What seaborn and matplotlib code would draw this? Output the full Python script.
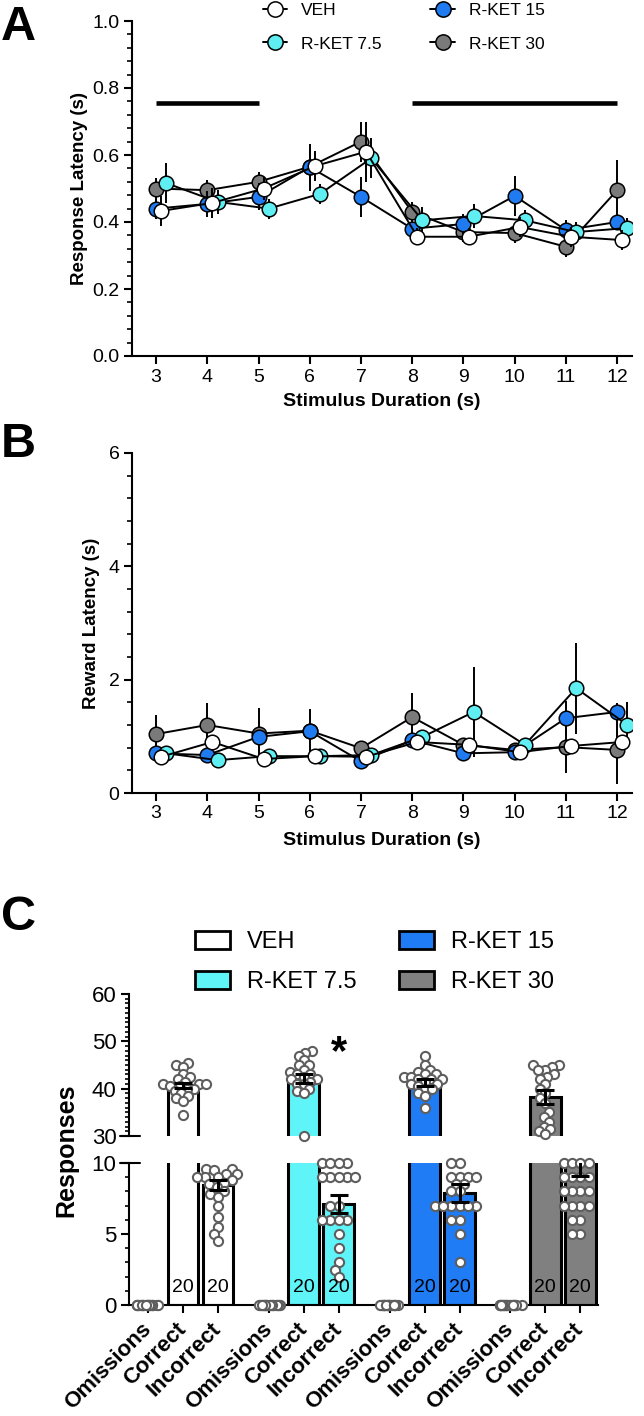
import numpy as np
import pandas as pd
import matplotlib
matplotlib.use("Agg")
import matplotlib.pyplot as plt
import seaborn as sns
from matplotlib.lines import Line2D
from matplotlib.patches import Patch
from matplotlib.ticker import MultipleLocator

# ---------------- data ----------------
groups = ["VEH", "R-KET 7.5", "R-KET 15", "R-KET 30"]
durations = [3, 4, 5, 6, 7, 8, 9, 10, 11, 12]

# Panel A: response latency (s), mean and SEM
resp_veh = [0.433, 0.457, 0.500, 0.567, 0.610, 0.356, 0.356, 0.385, 0.356, 0.346]
resp_r75 = [0.516, 0.460, 0.440, 0.484, 0.590, 0.405, 0.418, 0.405, 0.370, 0.382]
resp_r15 = [0.440, 0.454, 0.475, 0.564, 0.475, 0.380, 0.394, 0.478, 0.376, 0.400]
resp_r30 = [0.500, 0.495, 0.520, 0.565, 0.640, 0.430, 0.370, 0.367, 0.326, 0.495]
resp_sem_veh = [0.045, 0.045, 0.035, 0.045, 0.090, 0.025, 0.025, 0.030, 0.030, 0.030]
resp_sem_r75 = [0.060, 0.035, 0.030, 0.030, 0.060, 0.040, 0.035, 0.030, 0.030, 0.030]
resp_sem_r15 = [0.030, 0.040, 0.040, 0.070, 0.060, 0.030, 0.030, 0.060, 0.030, 0.025]
resp_sem_r30 = [0.030, 0.030, 0.030, 0.050, 0.060, 0.030, 0.030, 0.030, 0.030, 0.090]

# Panel B: reward latency (s), mean and SEM
rew_veh = [0.64, 0.90, 0.60, 0.65, 0.64, 0.90, 0.85, 0.72, 0.83, 0.90]
rew_r75 = [0.70, 0.58, 0.65, 0.65, 0.67, 0.99, 1.43, 0.85, 1.85, 1.20]
rew_r15 = [0.70, 0.67, 0.99, 1.09, 0.56, 0.93, 0.70, 0.72, 1.32, 1.43]
rew_r30 = [1.04, 1.20, 1.05, 1.10, 0.79, 1.34, 0.85, 0.76, 0.81, 0.76]
rew_sem_veh = [0.08, 0.12, 0.08, 0.08, 0.08, 0.10, 0.08, 0.06, 0.08, 0.08]
rew_sem_r75 = [0.08, 0.08, 0.08, 0.08, 0.08, 0.12, 0.79, 0.10, 0.80, 0.40]
rew_sem_r15 = [0.08, 0.10, 0.12, 0.39, 0.08, 0.10, 0.08, 0.08, 0.30, 0.15]
rew_sem_r30 = [0.33, 0.38, 0.45, 0.15, 0.10, 0.43, 0.10, 0.08, 0.45, 0.60]

# significance bars in A (duration spans)
sig_spans = [(3, 5), (8, 12)]
sig_level = 0.755

# Panel C: responses
outcomes = ["Omissions", "Correct", "Incorrect"]
resp_mean = {"VEH": [0, 40.7, 8.45], "R-KET 7.5": [0, 42.2, 7.1],
             "R-KET 15": [0, 41.3, 7.9], "R-KET 30": [0, 38.3, 10.0]}
resp_sem = {"VEH": [0, 0.6, 0.35], "R-KET 7.5": [0, 0.9, 0.65],
            "R-KET 15": [0, 0.8, 0.65], "R-KET 30": [0, 1.5, 0.9]}
correct_veh = [45.5, 45, 44.5, 43, 42.5, 42, 41.5, 41, 41, 41, 40.5, 40.5, 40, 40, 39.5, 39, 38.5, 38, 37.5, 34.5]
correct_r75 = [48, 47.5, 47, 46, 45, 45, 44, 43.5, 43, 43, 42.5, 42, 42, 41.5, 41, 41, 40, 39.5, 39, 30]
correct_r15 = [47, 45, 44, 43.5, 43, 43, 42.5, 42.5, 42, 42, 42, 41.5, 41, 41, 40.5, 40, 40, 39, 38.5, 36]
correct_r30 = [45, 45, 44.5, 44, 44, 43, 42.5, 42, 41, 40, 39, 38, 37, 35, 34, 33, 32, 31.5, 31, 30.5]
incorrect_veh = [9.6, 9.6, 9.5, 9.2, 9.2, 9.0, 9.0, 9.0, 8.8, 8.6, 8.5, 8.3, 8.0, 7.8, 7.6, 7.0, 6.2, 5.5, 5.0, 4.5]
incorrect_r75 = [10, 10, 10, 10, 9, 9, 9, 9, 9, 7, 7, 6, 6, 6, 6, 5, 4, 3, 2.5, 2]
incorrect_r15 = [10, 10, 9, 9, 9, 9, 8.5, 8.5, 8, 8, 7, 7, 7, 7, 7, 7, 6, 6, 5, 3]
incorrect_r30 = [10, 10, 10, 10, 9, 9, 9, 9, 8, 8, 8, 8, 7, 7, 7, 7, 6, 6, 5, 5]
omissions = [0] * 20
n_subjects = 20

# ---------------- style ----------------
line_fill = {"VEH": "#FFFFFF", "R-KET 7.5": "#5FEFF2", "R-KET 15": "#1F7BEF", "R-KET 30": "#7A7A7A"}
bar_fill = {"VEH": "#FFFFFF", "R-KET 7.5": "#5FF5F8", "R-KET 15": "#1F7CF5", "R-KET 30": "#808080"}
dodge_off = {"VEH": 0.1, "R-KET 7.5": 0.2, "R-KET 15": 0.0, "R-KET 30": 0.0}
draw_order = ["R-KET 30", "R-KET 15", "R-KET 7.5", "VEH"]

sns.set_theme(style="ticks")
plt.rcParams["font.family"] = ["Liberation Sans", "DejaVu Sans"]
plt.rcParams["text.color"] = "black"
plt.rcParams["axes.labelcolor"] = "black"
plt.rcParams["axes.linewidth"] = 1.5
plt.rcParams["xtick.major.width"] = 1.5
plt.rcParams["ytick.major.width"] = 1.5
plt.rcParams["xtick.minor.width"] = 1.2
plt.rcParams["ytick.minor.width"] = 1.2
plt.rcParams["xtick.color"] = "black"
plt.rcParams["ytick.color"] = "black"
plt.rcParams["xtick.labelcolor"] = "black"
plt.rcParams["ytick.labelcolor"] = "black"
plt.rcParams["axes.edgecolor"] = "black"

W, H = 644, 1416
fig = plt.figure(figsize=(W / 100, H / 100), dpi=100)


def ax_px(l, t, r, b):
    return fig.add_axes([l / W, 1 - b / H, (r - l) / W, (b - t) / H])


axA = ax_px(132, 21, 632, 356)
axB = ax_px(132, 453, 632, 793)
axCt = ax_px(129, 994, 598, 1136)
axCb = ax_px(129, 1163, 598, 1305)


def line_panel(ax, means, sems):
    for k, g in enumerate(draw_order):
        d = pd.DataFrame({"x": np.array(durations) + dodge_off[g], "y": means[g], "e": sems[g]})
        z = 3 + 3 * k
        ax.errorbar(d["x"], d["y"], yerr=d["e"], fmt="none", ecolor="black",
                    elinewidth=1.4, capsize=0, zorder=z)
        sns.lineplot(data=d, x="x", y="y", color="black", linewidth=1.4, ax=ax,
                     zorder=z + 1, sort=False)
        sns.scatterplot(data=d, x="x", y="y", color=line_fill[g], edgecolor="black",
                        linewidth=1.1, s=110, ax=ax, zorder=z + 2, legend=False)
    for s in ("top", "right"):
        ax.spines[s].set_visible(False)
    ax.set_xlim(2.53, 12.29)
    ax.set_xticks(durations)
    ax.set_xticklabels([str(v) for v in durations])
    ax.tick_params(axis="both", which="major", length=6, labelsize=14, pad=3, direction="out")
    ax.tick_params(axis="y", which="minor", length=3.5, direction="out")


line_panel(axA,
           {"VEH": resp_veh, "R-KET 7.5": resp_r75, "R-KET 15": resp_r15, "R-KET 30": resp_r30},
           {"VEH": resp_sem_veh, "R-KET 7.5": resp_sem_r75, "R-KET 15": resp_sem_r15, "R-KET 30": resp_sem_r30})
axA.set_ylim(0, 1.0)
axA.yaxis.set_major_locator(MultipleLocator(0.2))
axA.yaxis.set_minor_locator(MultipleLocator(0.04))
axA.set_yticklabels([f"{v:.1f}" for v in axA.get_yticks()])
for a, b in sig_spans:
    axA.plot([a, b], [sig_level, sig_level], color="black", lw=3.3, solid_capstyle="butt", zorder=20)
axA.set_xlabel("Stimulus Duration (s)", fontsize=14, fontweight="bold")
axA.set_ylabel("Response Latency (s)", fontsize=13.5, fontweight="bold")
axA.xaxis.set_label_coords(0.5, -0.11)
axA.xaxis.label.set_va("top")
axA.yaxis.set_label_coords(-0.087, 0.5)

line_panel(axB,
           {"VEH": rew_veh, "R-KET 7.5": rew_r75, "R-KET 15": rew_r15, "R-KET 30": rew_r30},
           {"VEH": rew_sem_veh, "R-KET 7.5": rew_sem_r75, "R-KET 15": rew_sem_r15, "R-KET 30": rew_sem_r30})
axB.set_ylim(0, 6)
axB.yaxis.set_major_locator(MultipleLocator(2))
axB.yaxis.set_minor_locator(MultipleLocator(0.4))
axB.set_xlabel("Stimulus Duration (s)", fontsize=14, fontweight="bold")
axB.set_ylabel("Reward Latency (s)", fontsize=13.5, fontweight="bold")
axB.xaxis.set_label_coords(0.5, -0.115)
axB.xaxis.label.set_va("top")
axB.yaxis.set_label_coords(-0.065, 0.5)

# legend A
hA = [Line2D([0], [0], color="black", lw=1.4, marker="o", markersize=11,
             markerfacecolor=line_fill[g], markeredgecolor="black", markeredgewidth=1.1) for g in groups]
fig.legend(hA, groups, loc="upper left", bbox_to_anchor=(263 / W, 1 - 3 / H), ncol=2, frameon=False,
           fontsize=12.5, borderpad=0, borderaxespad=0, handlelength=1.4, handletextpad=0.8,
           labelspacing=1.05, columnspacing=2.8)

# ---------------- Panel C ----------------
group_gap = 3.45
rows = []
for gi, g in enumerate(groups):
    for ci, o in enumerate(outcomes):
        rows.append({"pos": gi * group_gap + ci, "group": g, "outcome": o,
                     "mean": resp_mean[g][ci], "sem": resp_sem[g][ci]})
dfbar = pd.DataFrame(rows)

dots = {"VEH": (omissions, correct_veh, incorrect_veh),
        "R-KET 7.5": (omissions, correct_r75, incorrect_r75),
        "R-KET 15": (omissions, correct_r15, incorrect_r15),
        "R-KET 30": (omissions, correct_r30, incorrect_r30)}
drows = []
for gi, g in enumerate(groups):
    for ci, o in enumerate(outcomes):
        for v in dots[g][ci]:
            drows.append({"pos": gi * group_gap + ci, "outcome": o, "val": v})
dfdots = pd.DataFrame(drows)

for ax in (axCt, axCb):
    sns.barplot(data=dfbar, x="pos", y="mean", hue="group", palette=bar_fill, native_scale=True,
                width=0.88, dodge=False, saturation=1, edgecolor="black", linewidth=2.2,
                legend=False, errorbar=None, ax=ax, zorder=2)
    e = dfbar[dfbar["sem"] > 0]
    ax.errorbar(e["pos"], e["mean"], yerr=e["sem"], fmt="none", ecolor="black", elinewidth=2.2,
                capsize=6.5, capthick=2.2, zorder=6)

# swarm positions are computed with a tighter packing size, then shown at full dot size
pack_top, pack_bottom, dot_size = 3.4, 4.2, 6.6
dot_kw = dict(color="white", edgecolor="#5E5E5E", linewidth=1.5, native_scale=True, orient="x")
swarm_colls = []
n0 = len(axCt.collections)
sns.swarmplot(data=dfdots[dfdots["outcome"] == "Correct"], x="pos", y="val", ax=axCt, zorder=4,
              clip_on=False, size=pack_top, **dot_kw)
swarm_colls += axCt.collections[n0:]
n0 = len(axCb.collections)
sns.swarmplot(data=dfdots[dfdots["outcome"] == "Incorrect"], x="pos", y="val", ax=axCb, zorder=4,
              clip_on=False, size=pack_bottom, **dot_kw)
swarm_colls += axCb.collections[n0:]
np.random.seed(3)
sns.stripplot(data=dfdots[dfdots["outcome"] == "Omissions"], x="pos", y="val", ax=axCb, zorder=4,
              clip_on=False, jitter=0.1, size=dot_size, **dot_kw)

xl = (-0.543, 12.857)
for ax in (axCt, axCb):
    ax.set_xlim(*xl)
    ax.set_xlabel("")
    ax.set_ylabel("")
    ax.spines["top"].set_visible(False)
    ax.spines["right"].set_visible(False)

axCt.set_ylim(30, 60)
axCt.spines["bottom"].set_visible(False)
axCt.set_xticks([])
axCt.yaxis.set_major_locator(MultipleLocator(10))
axCt.yaxis.set_minor_locator(MultipleLocator(1))
axCt.tick_params(axis="y", which="major", length=6, labelsize=16, pad=3)
axCt.tick_params(axis="y", which="minor", length=3)

axCb.set_ylim(0, 10)
axCb.yaxis.set_major_locator(MultipleLocator(5))
axCb.yaxis.set_minor_locator(MultipleLocator(1))
axCb.tick_params(axis="y", which="major", length=6, labelsize=16, pad=3)
axCb.tick_params(axis="y", which="minor", length=3)
axCb.set_xticks(dfbar["pos"])
axCb.set_xticklabels(dfbar["outcome"], rotation=45, ha="right", va="center",
                     rotation_mode="anchor", fontsize=16, fontweight="bold")
axCb.tick_params(axis="x", length=6, pad=9)

# axis-break marks
for ax, yfrac in ((axCt, 0.0), (axCb, 1.0)):
    ax.plot([-0.019, 0.023], [yfrac, yfrac], transform=ax.transAxes, color="black",
            lw=1.5, clip_on=False, zorder=10)

# n labels
for _, r in dfbar[dfbar["outcome"] != "Omissions"].iterrows():
    axCb.text(r["pos"], 1.2, str(n_subjects), ha="center", va="center", fontsize=14, zorder=7)

# significance star above R-KET 7.5 incorrect
star_pos = dfbar[(dfbar["group"] == "R-KET 7.5") & (dfbar["outcome"] == "Incorrect")]["pos"].iloc[0]
axCt.text(star_pos, 47.5, "*", ha="center", va="center", fontsize=30, fontweight="bold")

fig.text(66 / W, 1 - 1150 / H, "Responses", rotation=90, ha="center", va="center",
         fontsize=18, fontweight="bold")

hC = [Patch(facecolor=bar_fill[g], edgecolor="black", linewidth=2) for g in groups]
fig.legend(hC, groups, loc="upper left", bbox_to_anchor=(195 / W, 1 - 931 / H), ncol=2,
           frameon=False, fontsize=17, borderpad=0, borderaxespad=0, handlelength=1.48,
           handleheight=0.8, handletextpad=0.72, labelspacing=0.74, columnspacing=1.78)

for lab, yc in (("A", 28), ("B", 444), ("C", 918)):
    fig.text(1 / W, 1 - yc / H, lab, fontsize=35, fontweight="bold", ha="left", va="center")

# compute swarm layout once, then freeze it and enlarge the dots
fig.canvas.draw()
for c in swarm_colls:
    c.__dict__.pop("draw", None)
    c.set_sizes([dot_size ** 2])

fig.savefig("out.png", dpi=100)
